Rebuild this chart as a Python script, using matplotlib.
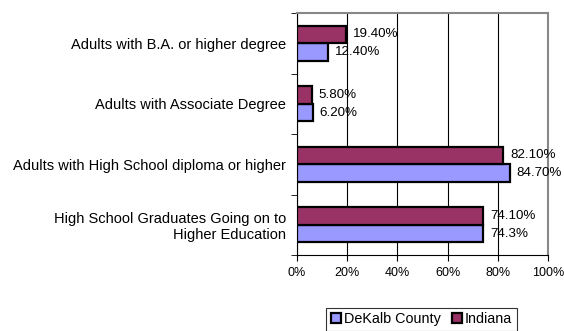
import matplotlib.pyplot as plt
import numpy as np
from matplotlib.ticker import FuncFormatter

plt.rcParams['font.family'] = ['Liberation Sans', 'DejaVu Sans']

# ----------- Data -----------
categories = [
    "High School Graduates Going on to\nHigher Education",
    "Adults with High School diploma or higher",
    "Adults with Associate Degree",
    "Adults with B.A. or higher degree",
]
dekalb = [74.3, 84.7, 6.2, 12.4]
indiana = [74.1, 82.1, 5.8, 19.4]
dekalb_labels = ["74.3%", "84.70%", "6.20%", "12.40%"]
indiana_labels = ["74.10%", "82.10%", "5.80%", "19.40%"]

# ----------- Plot -----------
fig = plt.figure(figsize=(5.64, 3.31), dpi=100)
ax = fig.add_axes([297 / 564, 1 - 255 / 331, 251 / 564, 242 / 331])

y = np.arange(len(categories))
h = 0.29
ax.barh(y - h / 2, dekalb, height=h, color="#9999FF", edgecolor="black",
        linewidth=1.6, label="DeKalb County", zorder=3)
ax.barh(y + h / 2, indiana, height=h, color="#993366", edgecolor="black",
        linewidth=1.6, label="Indiana", zorder=3)

for i in range(len(categories)):
    ax.annotate(dekalb_labels[i], (dekalb[i], y[i] - h / 2), xytext=(5, 0),
                textcoords="offset points", va="center", fontsize=9.6)
    ax.annotate(indiana_labels[i], (indiana[i], y[i] + h / 2), xytext=(5, 0),
                textcoords="offset points", va="center", fontsize=9.6)

ax.set_xlim(0, 100)
ax.set_ylim(-0.5, len(categories) - 0.5)
ax.set_xticks(range(0, 101, 20))
ax.xaxis.set_major_formatter(FuncFormatter(lambda v, p: f"{v:.0f}%"))
ax.set_yticks(y)
ax.set_yticklabels(categories, fontsize=10.5)
ax.set_yticks(np.arange(-0.5, len(categories), 1), minor=True)
ax.tick_params(axis="y", which="major", length=0, pad=8)
ax.tick_params(axis="y", which="minor", length=4, color="black")
ax.tick_params(axis="x", length=4, labelsize=9, pad=5)
ax.grid(axis="x", color="black", linewidth=0.8, zorder=0)

ax.spines["top"].set_color("#888888")
ax.spines["right"].set_color("#888888")
ax.spines["top"].set_linewidth(1.5)
ax.spines["right"].set_linewidth(1.5)

leg = fig.legend(loc="lower left", bbox_to_anchor=(319 / 564, -0.021), ncol=2,
                 frameon=True, fontsize=10.4, handlelength=0.7, handleheight=0.7,
                 handletextpad=0.2, columnspacing=0.8, borderpad=0.3,
                 fancybox=False, edgecolor="black")
leg.get_frame().set_linewidth(0.8)

fig.savefig("out.png", dpi=100)
